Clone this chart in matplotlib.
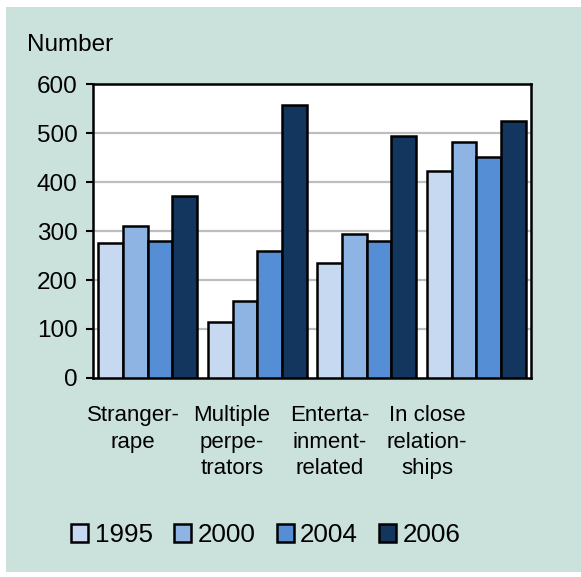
import numpy as np
import matplotlib.pyplot as plt
from matplotlib.patches import Rectangle

plt.rcParams['font.family'] = ['Liberation Sans', 'DejaVu Sans']

# data
categories = ['Stranger-\nrape', 'Multiple\nperpe-\ntrators',
              'Enterta-\ninment-\nrelated', 'In close\nrelation-\nships']
years = ['1995', '2000', '2004', '2006']
v1995 = [275, 114, 234, 422]
v2000 = [310, 157, 295, 483]
v2004 = [279, 260, 279, 452]
v2006 = [372, 557, 494, 525]
yticks = [0, 100, 200, 300, 400, 500, 600]

colors = ['#C6D9F1', '#8EB4E3', '#558ED5', '#12365E']
bg = '#CBE2DC'

fig = plt.figure(figsize=(5.81, 5.77), dpi=100, facecolor='white')
fig.patches.append(Rectangle((6 / 581, 5 / 577), 575 / 581, 565 / 577,
                             transform=fig.transFigure, facecolor=bg,
                             edgecolor='none', zorder=-5))
ax = fig.add_axes([0.160, 0.345, 0.754, 0.509])
ax.set_zorder(2)

x = np.arange(len(categories))
w = 0.225
series = [v1995, v2000, v2004, v2006]
for i, vals in enumerate(series):
    ax.bar(x + (i - 1.5) * w, vals, w, color=colors[i], edgecolor='black',
           linewidth=1.8, label=years[i], zorder=3)

ax.set_xlim(-0.5, len(categories) - 0.5)
ax.set_ylim(0, 600)
ax.set_yticks(yticks)
ax.set_yticklabels([str(t) for t in yticks], fontsize=17.5)
ax.set_xticks([])
ax.tick_params(axis='y', length=5, width=1.5, pad=6)
for g in yticks[1:-1]:
    ax.axhline(g, color='#BEBEBE', linewidth=1.6, zorder=1)
for s in ax.spines.values():
    s.set_linewidth(1.8)
    s.set_color('black')

fig.text(27 / 581, 1 - 45 / 577, 'Number', fontsize=17.5, ha='left', va='center')

# category labels (placed as in the reference layout)
label_x = [133, 232, 330, 427]
for lx, lab in zip(label_x, categories):
    fig.text(lx / 581, 1 - 405 / 577, lab, fontsize=16, ha='center', va='top',
             linespacing=1.35)

fig.legend(loc='center', bbox_to_anchor=(266 / 581, 1 - 535 / 577), ncol=4,
           frameon=False, fontsize=18.7, handlelength=0.65, handleheight=0.65,
           handletextpad=0.25, columnspacing=0.82, borderaxespad=0)

fig.savefig('out.png', dpi=100, facecolor=fig.get_facecolor())
